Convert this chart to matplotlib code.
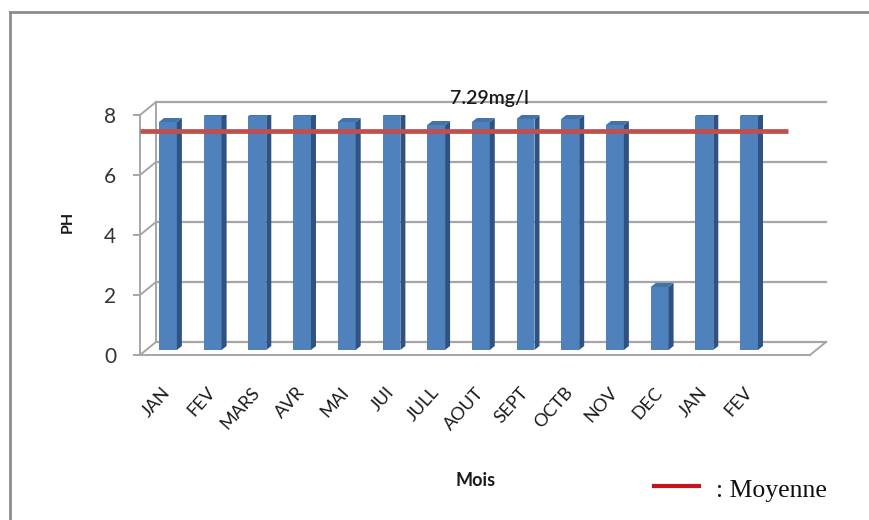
import matplotlib
matplotlib.use("Agg")
import matplotlib.pyplot as plt
from matplotlib.patches import Polygon
from matplotlib.lines import Line2D
import numpy as np

# ---- data ----
months = ["JAN", "FEV", "MARS", "AVR", "MAI", "JUI", "JULL", "AOUT",
          "SEPT", "OCTB", "NOV", "DEC", "JAN", "FEV"]
ph_values = [7.6, 7.8, 7.8, 7.8, 7.6, 7.8, 7.5, 7.6, 7.7, 7.7, 7.5, 2.1, 7.8, 7.8]
mean_value = 7.29
mean_label = "7.29mg/l"
y_ticks = [0, 2, 4, 6, 8]
y_label = "PH"
x_label = "Mois"
legend_label = ": Moyenne"

# ---- styling / geometry ----
W, H, DPI = 870, 520, 100
FONT = "Lato"
GRID = "#A6A6A6"
FRONT = "#4F81BD"
SIDE = "#2E5281"
TOP = "#4472AA"
RED = "#C0504D"

fig = plt.figure(figsize=(W / DPI, H / DPI), dpi=DPI)
fig.patch.set_facecolor("white")

# front plot rectangle in pixels
left_px, right_px, bottom_px, top_px = 140, 810, 355, 115
ax = fig.add_axes([left_px / W, 1 - bottom_px / H, (right_px - left_px) / W,
                   (bottom_px - top_px) / H])
px_per_x = 44.7
bar_left0 = 159
xl = -0.2 - (bar_left0 - left_px) / px_per_x
xr = xl + (right_px - left_px) / px_per_x
ax.set_xlim(xl, xr)
ax.set_ylim(0, 8)
ax.set_facecolor("none")

px_per_y = (bottom_px - top_px) / 8.0
DXB = 16 / px_per_x      # depth offset of back wall
DYB = 13 / px_per_y
b0 = 5 / px_per_y        # bar base above front floor edge
half = 0.2               # half width of bar front face
sdx = 5 / px_per_x       # bar side depth
sdy = 4 / px_per_y

# back wall gridlines
for k in y_ticks:
    ax.add_line(Line2D([xl + DXB, xr + DXB], [k + DYB, k + DYB], color=GRID,
                       lw=1.6, zorder=1, clip_on=False))
    # left wall slanted lines
    ax.add_line(Line2D([xl, xl + DXB], [k, k + DYB], color=GRID, lw=1.4,
                       zorder=1, clip_on=False))
# back wall left vertical edge
ax.add_line(Line2D([xl + DXB, xl + DXB], [DYB, 8 + DYB], color=GRID, lw=1.4,
                   zorder=1, clip_on=False))
# floor right edge
ax.add_line(Line2D([xr, xr + DXB], [0, DYB], color=GRID, lw=1.4, zorder=1,
                   clip_on=False))

# bars (pseudo 3D)
x = np.arange(len(months))
ax.bar(x, ph_values, width=2 * half, bottom=b0, color=FRONT, zorder=3,
       edgecolor="none")
for xi, v in zip(x, ph_values):
    top = b0 + v
    side = Polygon([(xi + half, b0), (xi + half + sdx, b0 + sdy),
                    (xi + half + sdx, top + sdy), (xi + half, top)],
                   closed=True, facecolor=SIDE, edgecolor="none", zorder=3)
    cap = Polygon([(xi - half, top), (xi - half + sdx, top + sdy),
                   (xi + half + sdx, top + sdy), (xi + half, top)],
                  closed=True, facecolor=TOP, edgecolor="none", zorder=3)
    ax.add_patch(side)
    ax.add_patch(cap)

# mean line
mean_end = -0.2 + (788 - bar_left0) / px_per_x
ax.plot([xl, mean_end], [mean_value + b0, mean_value + b0], color=RED, lw=3.4,
        zorder=5, solid_capstyle="butt", clip_on=False)
ax.text(xl + (489 - left_px) / px_per_x, 8 + (115 - 104) / px_per_y,
        mean_label, ha="center", va="baseline", fontsize=14, family=FONT,
        fontweight="semibold", color="#1a1a1a", zorder=6)

# axes styling
for s in ["top", "right"]:
    ax.spines[s].set_visible(False)
for s in ["left", "bottom"]:
    ax.spines[s].set_color(GRID)
    ax.spines[s].set_linewidth(1.4)
ax.set_yticks(y_ticks)
ax.set_yticklabels([str(t) for t in y_ticks], fontsize=15, family=FONT,
                   color="#333333")
ax.tick_params(axis="y", length=5, width=1.4, color=GRID, pad=12)
ax.set_xticks(x)
ax.set_xticklabels(months, rotation=48, ha="right", va="center",
                   rotation_mode="anchor", fontsize=13, family=FONT,
                   color="#1a1a1a")
ax.tick_params(axis="x", length=0, pad=25)

fig.text(68 / W, 1 - 222 / H, y_label, rotation=90, ha="center", va="center",
         fontsize=11.5, fontweight="bold", family=FONT, color="#1a1a1a")
fig.text(476 / W, 1 - 481 / H, x_label, ha="center", va="center",
         fontsize=13, fontweight="bold", family=FONT, color="#1a1a1a")

# legend
fig.add_artist(Line2D([654 / W, 699 / W], [1 - 486 / H, 1 - 486 / H],
                      transform=fig.transFigure, color="#C0171C", lw=3))
fig.text(716 / W, 1 - 497 / H, legend_label, ha="left", va="baseline",
         fontsize=18.5, family="Liberation Serif", color="#111111")

# outer frame
fig.add_artist(Line2D([10 / W, 10 / W], [0, 1 - 12 / H],
                      transform=fig.transFigure, color="#8C8C8C", lw=2))
fig.add_artist(Line2D([10 / W, 1], [1 - 12 / H, 1 - 12 / H],
                      transform=fig.transFigure, color="#8C8C8C", lw=2))

fig.savefig("out.png", dpi=DPI)
